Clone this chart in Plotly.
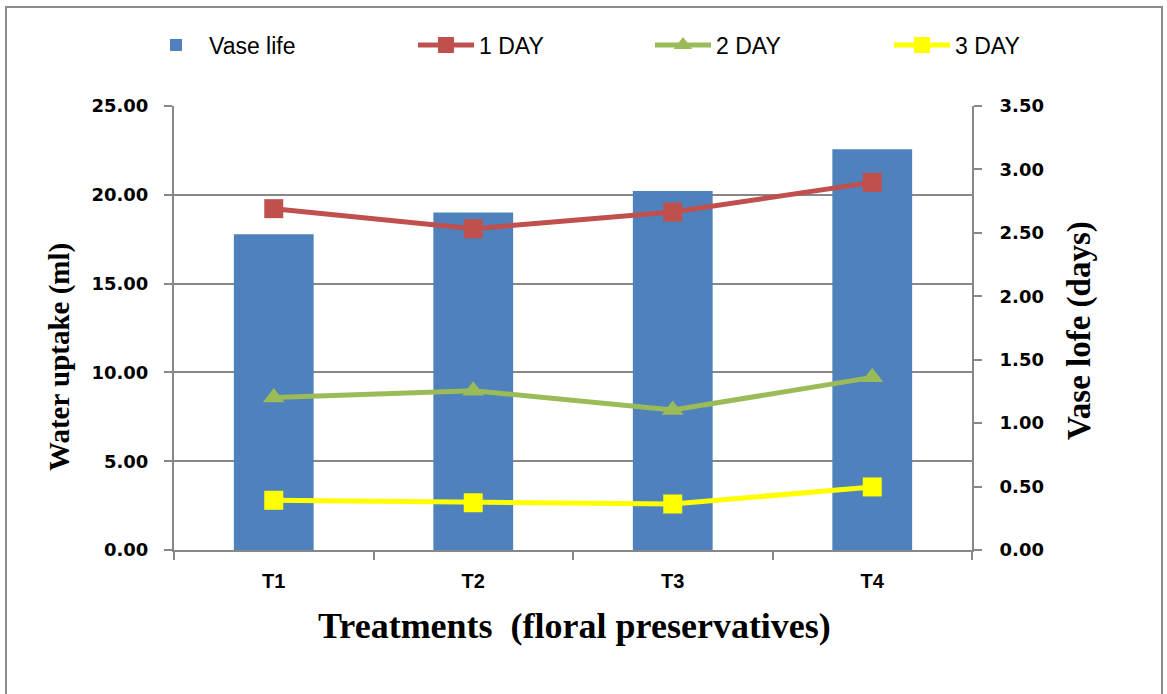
import plotly.graph_objects as go

# ---------------- data ----------------
categories = ["T1", "T2", "T3", "T4"]
vase_life = [2.49, 2.66, 2.83, 3.16]          # days (right axis, bars)
day1 = [19.22, 18.09, 19.03, 20.70]           # ml (left axis)
day2 = [8.59, 8.97, 7.88, 9.72]
day3 = [2.80, 2.66, 2.59, 3.55]
left_ticks = [0, 5, 10, 15, 20, 25]
right_ticks = [0, 0.5, 1.0, 1.5, 2.0, 2.5, 3.0, 3.5]

# ---------------- layout geometry ----------------
W, H = 1167, 694
PL, PR, PT, PB = 174, 972, 106, 550   # plot area edges in px


def px_x(px):
    return (px - PL) / (PR - PL)


def px_y(py):
    return (PB - py) / (PB - PT)


GRID = "#878787"
TICKFONT = dict(family="DejaVu Sans", size=18, color="#000000", weight="bold")
CATFONT = dict(family="Liberation Sans", size=20, color="#000000", weight="bold")
LEGFONT = dict(family="Liberation Sans", size=23, color="#000000")
TITLEFONT = "Liberation Serif, Times New Roman, serif"

fig = go.Figure()

fig.add_trace(go.Bar(
    x=categories, y=vase_life, name="Vase life",
    marker=dict(color="#4F81BD", line=dict(width=0)),
    width=0.4, yaxis="y", legend="legend",
))

line_specs = [
    ("1 DAY", day1, "#C0504D", "square", 19, "legend2"),
    ("2 DAY", day2, "#9BBB59", "triangle-up", 19, "legend3"),
    ("3 DAY", day3, "#FFFF00", "square", 19, "legend4"),
]
for name, vals, col, sym, size, leg in line_specs:
    fig.add_trace(go.Scatter(
        x=categories, y=vals, name=name, mode="lines+markers",
        line=dict(color=col, width=5),
        marker=dict(color=col, symbol=sym, size=size),
        yaxis="y2", legend=leg,
    ))

legend_common = dict(
    orientation="h", xref="container", yref="container",
    yanchor="middle", y=1 - 45 / H, xanchor="left",
    font=LEGFONT, bgcolor="rgba(0,0,0,0)", itemwidth=56,
)

fig.update_layout(
    width=W, height=H,
    margin=dict(l=PL, r=W - PR, t=PT, b=H - PB, autoexpand=False),
    paper_bgcolor="white", plot_bgcolor="white",
    xaxis=dict(
        type="category", showline=True, linecolor=GRID, linewidth=2,
        ticks="outside", ticklen=8, tickwidth=2, tickcolor=GRID,
        tickson="boundaries", showgrid=False, tickfont=CATFONT,
        ticklabelstandoff=12,
    ),
    # primary y: vase life (right side) so that line traces render above the bars
    yaxis=dict(
        side="right", range=[0, 3.5], tickvals=right_ticks, tickformat=".2f",
        showline=True, linecolor=GRID, linewidth=2,
        ticks="outside", ticklen=8, tickwidth=2, tickcolor=GRID,
        showgrid=False, zeroline=False, tickfont=TICKFONT,
        ticklabelstandoff=14,
    ),
    yaxis2=dict(
        overlaying="y", side="left", range=[0, 25], tickvals=left_ticks, tickformat=".2f",
        showline=True, linecolor=GRID, linewidth=2,
        ticks="outside", ticklen=8, tickwidth=2, tickcolor=GRID,
        showgrid=True, gridcolor=GRID, gridwidth=2, zeroline=False,
        tickfont=TICKFONT, ticklabelstandoff=12,
    ),
    legend=dict(legend_common, x=143 / W),
    legend2=dict(legend_common, x=413 / W),
    legend3=dict(legend_common, x=650 / W),
    legend4=dict(legend_common, x=889 / W),
    showlegend=True,
)

# axis titles
fig.add_annotation(
    text="<b>Water uptake (ml)</b>", xref="paper", yref="paper",
    x=px_x(59), y=px_y(357), xanchor="center", yanchor="middle",
    textangle=-90, showarrow=False,
    font=dict(family=TITLEFONT, size=29, color="#000000"),
)
fig.add_annotation(
    text="<b>Vase lofe (days)</b>", xref="paper", yref="paper",
    x=px_x(1079), y=px_y(331), xanchor="center", yanchor="middle",
    textangle=-90, showarrow=False,
    font=dict(family=TITLEFONT, size=33, color="#000000"),
)
fig.add_annotation(
    text="<b>Treatments  (floral preservatives)</b>", xref="paper", yref="paper",
    x=px_x(574), y=px_y(626), xanchor="center", yanchor="middle",
    showarrow=False,
    font=dict(family=TITLEFONT, size=36, color="#000000"),
)

# chart border
fig.add_shape(
    type="rect", xref="paper", yref="paper",
    x0=px_x(6), x1=px_x(1162), y0=px_y(720), y1=px_y(7),
    line=dict(color="#8c8c8c", width=2), fillcolor="rgba(0,0,0,0)", layer="below",
)

fig.write_html(
    "out.html",
    config={"displayModeBar": False},
    post_script="document.body.style.margin='0px';",
)
